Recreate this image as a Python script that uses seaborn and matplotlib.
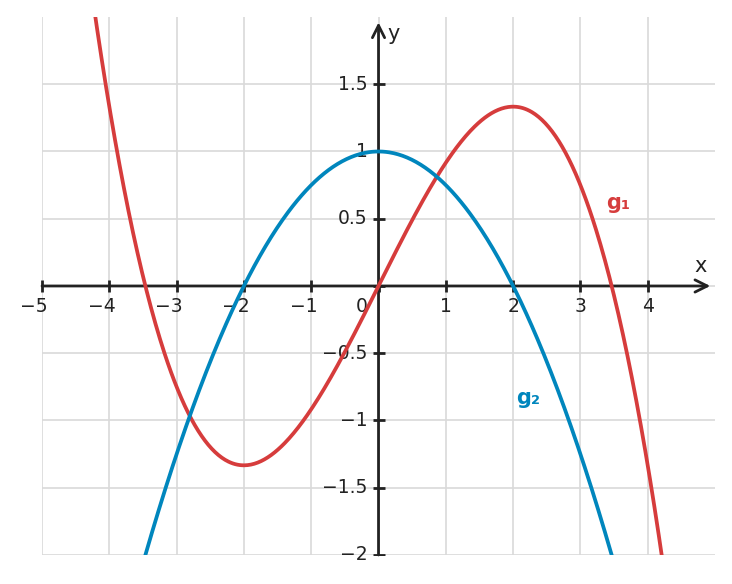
import numpy as np
import pandas as pd
import matplotlib.pyplot as plt
import seaborn as sns

# polynomial coefficients (highest power first)
# g1: roots at 0 and about +-3.46, max (2, 1.33), min (-2, -1.33)
g1_coef = [-1 / 12, 0, 1, 0]
# g2: vertex (0, 1), roots at +-2
g2_coef = [-1 / 4, 0, 1]

x_ticks = [-5, -4, -3, -2, -1, 0, 1, 2, 3, 4]
y_ticks = [-2, -1.5, -1, -0.5, 0, 0.5, 1, 1.5]
x_labels = ["−5", "−4", "−3", "−2", "−1", "", "1", "2", "3", "4"]
y_labels = ["−2", "−1.5", "−1", "−0.5", "", "0.5", "1", "1.5"]

red = "#d63c3c"
blue = "#0086bd"
dark = "#222222"

xs = np.linspace(-5, 5, 600)
df = pd.DataFrame({"x": xs,
                   "g1": np.polyval(g1_coef, xs),
                   "g2": np.polyval(g2_coef, xs)})

sns.set_style("white")
plt.rcParams["font.family"] = ["DejaVu Sans"]

fig = plt.figure(figsize=(7.32, 5.84), dpi=100)
ax = fig.add_axes([0.0574, 0.0497, 0.9194, 0.9212])
ax.set_xlim(-5, 5)
ax.set_ylim(-2, 2)

# grid
ax.set_xticks(x_ticks)
ax.set_yticks(y_ticks)
ax.tick_params(length=0, labelbottom=False, labelleft=False)
ax.grid(True, color="#d9d9d9", lw=1.2)
for s in ax.spines.values():
    s.set_visible(False)

# axes with arrows
ax.annotate("", xy=(4.93, 0), xytext=(-5, 0),
            arrowprops=dict(arrowstyle="->", lw=2, color=dark,
                            mutation_scale=22, shrinkA=0, shrinkB=0), zorder=3)
ax.annotate("", xy=(0, 1.96), xytext=(0, -2),
            arrowprops=dict(arrowstyle="->", lw=2, color=dark,
                            mutation_scale=22, shrinkA=0, shrinkB=0), zorder=3)
ax.plot(x_ticks, [0] * len(x_ticks), ls="none", marker="|", ms=8, mew=2,
        color=dark, zorder=3, clip_on=False)
ax.plot([0] * len(y_ticks), y_ticks, ls="none", marker="_", ms=8, mew=2,
        color=dark, zorder=3, clip_on=True)

fs = 13.5
for v, lab in zip(x_ticks, x_labels):
    if not lab:
        continue
    if lab.startswith("−"):
        ax.annotate(lab, xy=(v, 0), xytext=(4.3, -8), textcoords="offset points",
                    ha="right", va="top", fontsize=fs, color=dark)
    else:
        ax.annotate(lab, xy=(v, 0), xytext=(0, -8), textcoords="offset points",
                    ha="center", va="top", fontsize=fs, color=dark)
for v, lab in zip(y_ticks, y_labels):
    if not lab:
        continue
    ax.annotate(lab, xy=(0, v), xytext=(-8, 0), textcoords="offset points",
                ha="right", va="center", fontsize=fs, color=dark)
ax.annotate("0", xy=(0, 0), xytext=(-8, -8), textcoords="offset points",
            ha="right", va="top", fontsize=fs, color=dark)
ax.text(4.78, 0.15, "x", fontsize=15, color=dark, ha="center", va="center")
ax.text(0.22, 1.87, "y", fontsize=15, color=dark, ha="center", va="center")

# curves
sns.lineplot(data=df, x="x", y="g1", ax=ax, color=red, lw=2.7, zorder=4)
sns.lineplot(data=df, x="x", y="g2", ax=ax, color=blue, lw=2.7, zorder=5)
ax.set_xlabel("")
ax.set_ylabel("")

ax.text(3.56, 0.62, "g₁", color=red, fontsize=15, fontweight="bold",
        ha="center", va="center")
ax.text(2.23, -0.83, "g₂", color=blue, fontsize=15, fontweight="bold",
        ha="center", va="center")

fig.savefig("out.png", dpi=100)
